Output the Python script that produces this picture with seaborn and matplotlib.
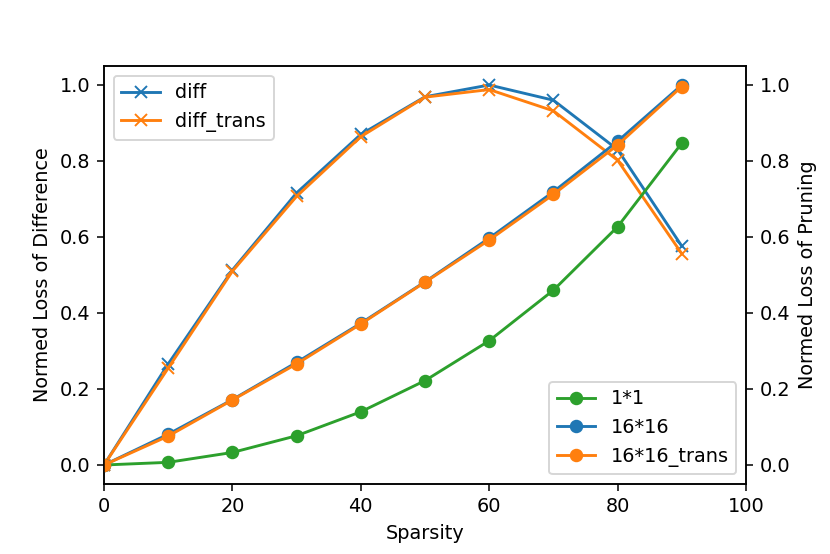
import matplotlib
matplotlib.use("Agg")
import matplotlib.pyplot as plt
import seaborn as sns
import pandas as pd

sparsity = [0, 10, 20, 30, 40, 50, 60, 70, 80, 90]
diff = [0.0, 0.266, 0.513, 0.716, 0.870, 0.969, 1.0, 0.960, 0.830, 0.576]
diff_trans = [0.0, 0.255, 0.510, 0.707, 0.864, 0.968, 0.988, 0.932, 0.802, 0.556]
loss_1x1 = [0.0, 0.007, 0.033, 0.077, 0.140, 0.222, 0.327, 0.460, 0.627, 0.847]
loss_16x16 = [0.0, 0.081, 0.172, 0.270, 0.373, 0.482, 0.597, 0.719, 0.852, 1.0]
loss_16x16_trans = [0.0, 0.076, 0.171, 0.266, 0.371, 0.481, 0.592, 0.712, 0.842, 0.996]

c_blue, c_orange, c_green = "#1f77b4", "#ff7f0e", "#2ca02c"

DPI = 830 / 6.0
fig = plt.figure(figsize=(6.0, 554 / DPI), dpi=DPI)
ax = fig.add_axes([104 / 830, 1 - 484 / 554, (746 - 104) / 830, (484 - 66) / 554])

df = pd.DataFrame({"Sparsity": sparsity, "diff": diff, "diff_trans": diff_trans,
                   "1*1": loss_1x1, "16*16": loss_16x16, "16*16_trans": loss_16x16_trans})

for name, col in [("diff", c_blue), ("diff_trans", c_orange)]:
    sns.lineplot(data=df, x="Sparsity", y=name, ax=ax, color=col, marker="x",
                 markersize=6, markeredgecolor=col, markeredgewidth=1.0,
                 linewidth=1.5, label=name)
ax.set_xlim(0, 100)
ax.set_ylim(-0.05, 1.05)
ax.set_xticks([0, 20, 40, 60, 80, 100])
ax.set_yticks([0.0, 0.2, 0.4, 0.6, 0.8, 1.0])
ax.set_xlabel("Sparsity")
ax.set_ylabel("Normed Loss of Difference")
ax.legend(loc="upper left")

ax2 = ax.twinx()
for name, col in [("1*1", c_green), ("16*16", c_blue), ("16*16_trans", c_orange)]:
    sns.lineplot(data=df, x="Sparsity", y=name, ax=ax2, color=col, marker="o",
                 markersize=6, markeredgecolor=col, markeredgewidth=1.0,
                 linewidth=1.5, label=name)
ax2.set_ylim(-0.05, 1.05)
ax2.set_yticks([0.0, 0.2, 0.4, 0.6, 0.8, 1.0])
ax2.set_ylabel("Normed Loss of Pruning")
ax2.legend(loc="lower right")

fig.savefig("out.png", dpi=DPI)
